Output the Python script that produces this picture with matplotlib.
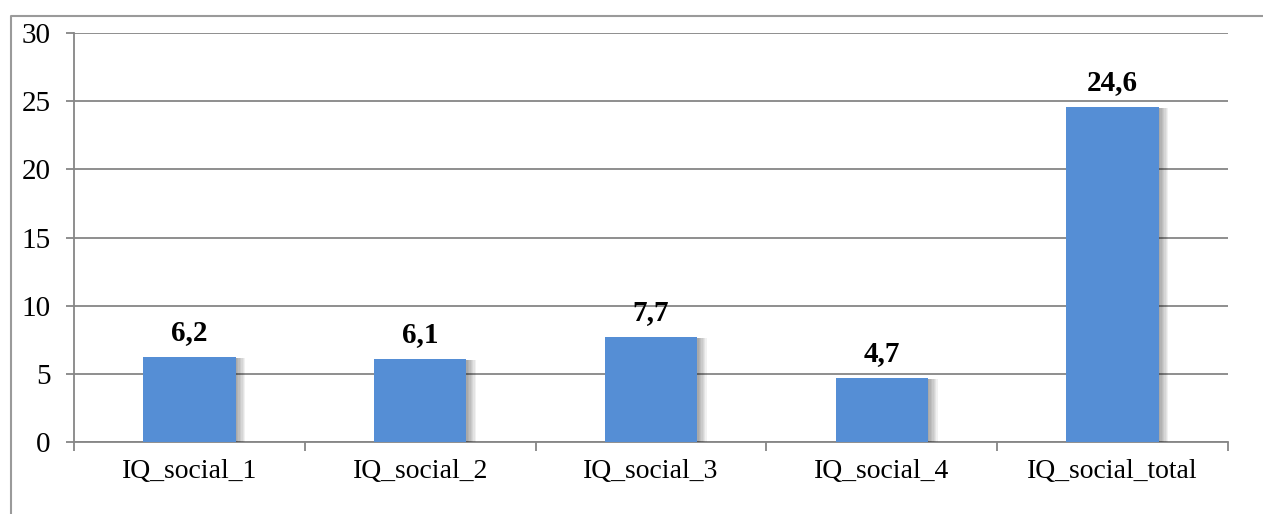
import matplotlib.pyplot as plt
import matplotlib.patheffects as pe
from matplotlib.lines import Line2D

categorias = ['IQ_social_1', 'IQ_social_2', 'IQ_social_3', 'IQ_social_4', 'IQ_social_total']
valores = [6.2, 6.1, 7.7, 4.7, 24.6]
etiquetas = ['6,2', '6,1', '7,7', '4,7', '24,6']
yticks = [0, 5, 10, 15, 20, 25, 30]

plt.rcParams['font.family'] = ['Liberation Serif', 'DejaVu Serif']

gris = '#868686'
azul = '#558ED5'

fig = plt.figure(figsize=(12.63, 5.14), dpi=100)
W, H = 1263, 514
ax = fig.add_axes([74 / W, 1 - 442 / H, (1228 - 74) / W, (442 - 33) / H])

# marco exterior (solo se ven arriba e izquierda)
fig.add_artist(Line2D([11 / W, 11 / W, 1.0], [0.0, 1 - 16 / H, 1 - 16 / H],
                      transform=fig.transFigure, color='#9a9a9a', lw=1.5))

x = range(len(categorias))
sombra = [pe.SimplePatchShadow(offset=(k, -0.7), shadow_rgbFace='black', alpha=0.055)
          for k in (1, 2, 3, 4, 5, 6, 7)]
bars = ax.bar(x, valores, width=0.40, color=azul, zorder=3)
for b in bars:
    b.set_path_effects(sombra + [pe.Normal()])

for xi, v, t in zip(x, valores, etiquetas):
    ax.annotate(t, (xi, v), xytext=(0, 11), textcoords='offset pixels',
                ha='center', va='bottom', fontsize=21, fontweight='bold', zorder=4)

ax.set_xlim(-0.5, len(categorias) - 0.5)
ax.set_ylim(0, 30)
ax.set_yticks(yticks)
ax.yaxis.grid(True, color=gris, lw=1.3, zorder=0)
ax.set_axisbelow(True)

ax.set_xticks(x)
ax.set_xticklabels(categorias, fontsize=20)
ax.set_xticks([i - 0.5 for i in range(len(categorias) + 1)], minor=True)
ax.tick_params(axis='x', which='major', length=0, pad=12)
ax.tick_params(axis='x', which='minor', length=6.5, width=1.3, color=gris, direction='out')
ax.tick_params(axis='y', length=6, width=1.3, color=gris, labelsize=21, pad=11)

for s in ['top', 'right']:
    ax.spines[s].set_visible(False)
for s in ['left', 'bottom']:
    ax.spines[s].set_color(gris)
    ax.spines[s].set_linewidth(1.3)

fig.savefig('out.png', dpi=100)
